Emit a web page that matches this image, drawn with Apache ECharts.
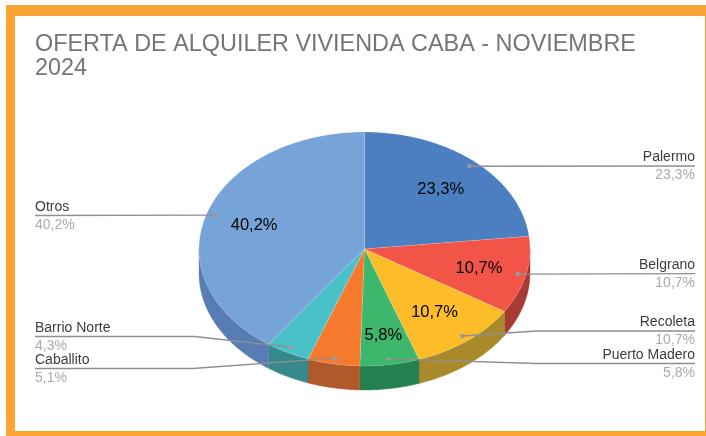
<!DOCTYPE html>
<html><head><meta charset="utf-8">
<style>html,body{margin:0;padding:0;background:#fff}#c{width:706px;height:436px}</style>
<script src="https://cdn.jsdelivr.net/npm/echarts@6/dist/echarts.min.js"></script>
</head><body><div id="c"></div>
<script>
const titleText = 'OFERTA DE ALQUILER VIVIENDA CABA - NOVIEMBRE\n2024';
const categories = ['Palermo','Belgrano','Recoleta','Puerto Madero','Caballito','Barrio Norte','Otros'];
const shares = [23.3,10.7,10.7,5.8,5.1,4.3,40.2];
const topColors = ['#4b7fc1','#f25548','#fdbd28','#3db76c','#f67a2e','#48c2c7','#77a4d8'];
const sideColors = ['#38608f','#a63b33','#a88a2a','#268150','#b0592a','#36898d','#587db4'];
// inner label radius as a fraction of the pie radius
const innerRadius = [0.69,0.71,0.68,0.74,0.7,0.7,0.7];
// leader-line routing: text side, y of the horizontal run, x of the elbow (null = straight)
const leaderSide = ['right','right','right','right','left','left','left'];
const leaderY = [166,273.7,331,363.5,368.5,336.5,215.5];
const leaderElbow = [null,null,536,536,193,195,null];

const cx=364.5, cy=249, rx=165.5, ry=117, depth=24;
const total = shares.reduce((a,b)=>a+b,0);
const starts = []; shares.reduce((acc,v,i)=>{starts[i]=acc;return acc+v;},0);
const ang = p => p/total*2*Math.PI;
const pt = (a,f,dy) => [cx+rx*f*Math.sin(a), cy+ry*f*(-Math.cos(a))+(dy||0)];
const fmt = v => v.toFixed(1).replace('.',',')+'%';

function arc(a0,a1,dy){
  const n=Math.max(2,Math.ceil((a1-a0)/(Math.PI/180))), out=[];
  for(let k=0;k<=n;k++) out.push(pt(a0+(a1-a0)*k/n,1,dy));
  return out;
}
const indices = categories.map((_,i)=>i);

function renderSide(p,api){
  const i=api.value(0), a0=ang(starts[i]), a1=ang(starts[i]+shares[i]);
  const lo=Math.max(a0,Math.PI/2), hi=Math.min(a1,Math.PI*1.5);
  if(hi<=lo) return {type:'group',children:[]};
  const pts=arc(lo,hi,0).concat(arc(lo,hi,depth).reverse());
  return {type:'polygon',shape:{points:pts},style:{fill:sideColors[i],stroke:sideColors[i],lineWidth:0.4}};
}
function renderTop(p,api){
  const i=api.value(0), a0=ang(starts[i]), a1=ang(starts[i]+shares[i]);
  const pts=[[cx,cy]].concat(arc(a0,a1,0));
  return {type:'polygon',shape:{points:pts},style:{fill:topColors[i],stroke:'rgba(255,255,255,0.25)',lineWidth:0.6}};
}
function renderLabel(p,api){
  const i=api.value(0), mid=ang(starts[i]+shares[i]/2), kids=[];
  if(shares[i]>5.5){
    const c=pt(mid,innerRadius[i]);
    kids.push({type:'text',style:{text:fmt(shares[i]),x:c[0],y:c[1]+1,align:'center',verticalAlign:'middle',
      fill:'#000',font:'16.5px "Liberation Sans", Arial, sans-serif'}});
  }
  const a=pt(mid,0.95), right=leaderSide[i]==='right', endX=right?695:35, y=leaderY[i];
  const line=[a];
  if(leaderElbow[i]!==null) line.push([leaderElbow[i],y]);
  line.push([endX,y]);
  kids.push({type:'polyline',shape:{points:line},style:{fill:null,stroke:'#8f8f8f',lineWidth:1.3}});
  kids.push({type:'circle',shape:{cx:a[0],cy:a[1],r:2.2},style:{fill:'#9a9a9a'}});
  const al=right?'right':'left';
  kids.push({type:'text',style:{text:categories[i],x:endX,y:y-8.5,align:al,verticalAlign:'middle',
    fill:'#3c3c3c',font:'14px "Liberation Sans", Arial, sans-serif'}});
  kids.push({type:'text',style:{text:fmt(shares[i]),x:endX,y:y+9.5,align:al,verticalAlign:'middle',
    fill:'#ababab',font:'14px "Liberation Sans", Arial, sans-serif'}});
  return {type:'group',children:kids};
}

const chart=echarts.init(document.getElementById('c'),null,{renderer:'canvas'});
chart.setOption({
  animation:false,
  backgroundColor:'#fff',
  title:{text:titleText,left:35,top:32,padding:0,textStyle:{color:'#757575',fontWeight:'normal',fontSize:23.4,lineHeight:24.5,
    fontFamily:'"Liberation Sans", Arial, sans-serif'}},
  graphic:[
    {type:'rect',z:-10,shape:{x:6,y:5,width:700,height:431},style:{fill:'#fba333'}},
    {type:'rect',z:-9,shape:{x:15,y:16,width:690,height:415},style:{fill:'#fff'}}
  ],
  series:[
    {type:'custom',coordinateSystem:'none',data:indices,renderItem:renderSide,z:1,silent:true},
    {type:'custom',coordinateSystem:'none',data:indices,renderItem:renderTop,z:2,silent:true},
    {type:'custom',coordinateSystem:'none',data:indices,renderItem:renderLabel,z:3,silent:true}
  ]
});
</script></body></html>
